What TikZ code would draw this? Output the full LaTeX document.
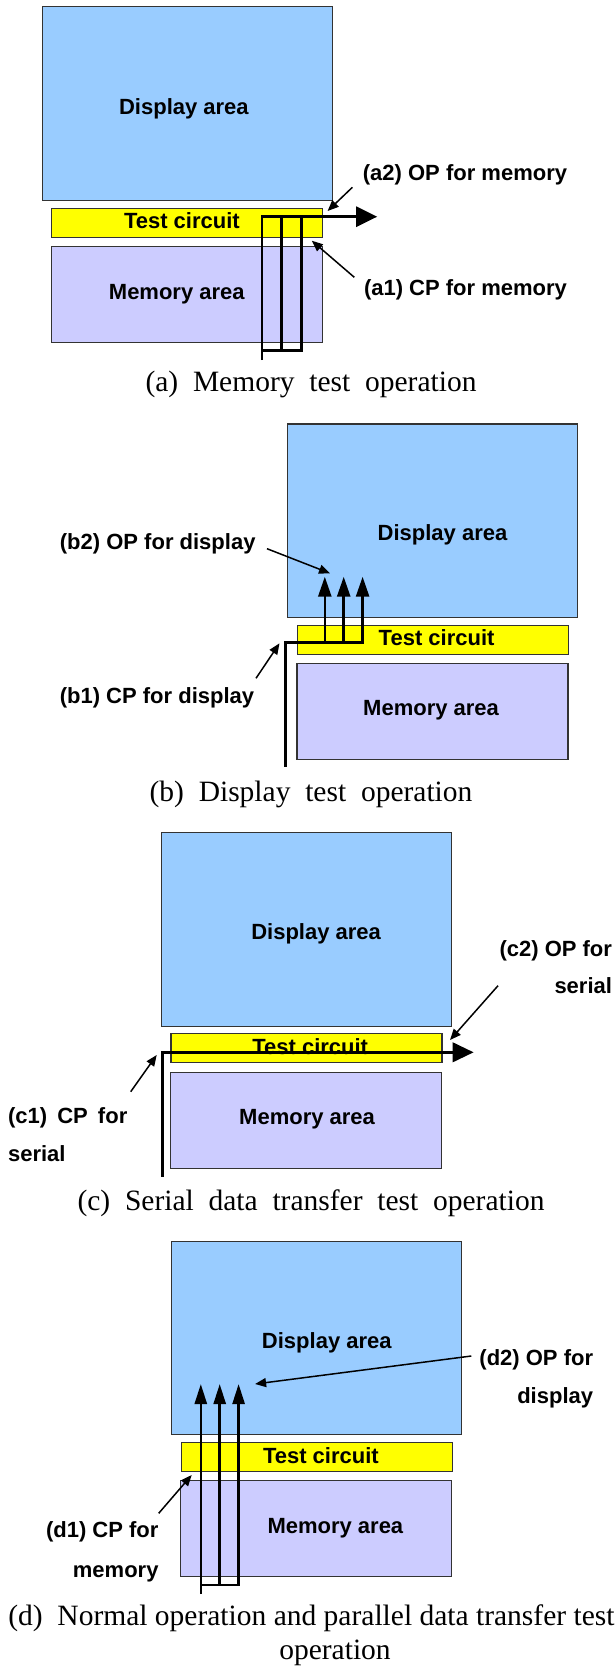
\documentclass[tikz,border=0pt]{standalone}
\usepackage{fontspec}
\setmainfont{Liberation Serif}
\newfontfamily\labfont{Liberation Sans}
\usetikzlibrary{arrows.meta}
\definecolor{dispblue}{HTML}{99CCFF}
\definecolor{testyellow}{HTML}{FFFF00}
\definecolor{memlav}{HTML}{CCCCFF}
\definecolor{boxgray}{HTML}{333333}
\begin{document}
\begin{tikzpicture}[x=1pt,y=-1pt,
  area/.style={draw=boxgray, line width=1.2pt, inner sep=0pt, outer sep=0pt, anchor=north west},
  disp/.style={area, fill=dispblue, minimum width=290pt, minimum height=193.5pt},
  testc/.style={area, fill=testyellow, minimum width=271pt, minimum height=29pt},
  mem/.style={area, fill=memlav, minimum width=271pt, minimum height=96pt},
  lab/.style={font=\labfont\bfseries\fontsize{22}{26}\selectfont, inner sep=0pt, anchor=base},
  captxt/.style={font=\fontsize{29.5}{34}\selectfont, inner sep=0pt, anchor=base},
  wire/.style={line width=2.6pt, line join=miter},
  bigtip/.style={-{Triangle[length=21pt,width=20pt]}},
  uptip/.style={-{Triangle[length=20pt,width=13pt]}},
  pointer/.style={line width=1.5pt, -{Triangle[length=11pt,width=9pt]}}
]
\useasboundingbox (0,0) rectangle (614,1666);

% ---------------- (a) ----------------
\node[disp]  (aD) at (42.1,6.7) {};
\node[testc] (aT) at (51.6,208.3) {};
\node[mem]   (aM) at (51.2,246.3) {};
\node[lab] (aDt) at (183.9,114) {Display area};
\node[lab] (aTt) at (181.9,228.7) {Test circuit};
\node[lab] (aMt) at (176.8,299.7) {Memory area};
\node[lab] (a2) at (465,180.3) {(a2) OP for memory};
\node[lab] (a1) at (465.5,295.3) {(a1) CP for memory};
\node[captxt] (acap) at (311,391.5) {(a)\ \ Memory\ \ test\ \ operation};
\coordinate (ain) at (261.8,360);
\coordinate (aturn) at (261.8,216.7);
\coordinate (aout) at (377.2,216.7);
\coordinate (ab1) at (261.8,350.7);
\coordinate (ab3) at (301.2,350.7);
\coordinate (at3) at (301.2,216.7);
\coordinate (ab2) at (281.5,350.7);
\coordinate (at2) at (281.5,216.7);
\draw[wire,bigtip] (ain) -- (aturn) -- (aout);
\draw[wire] (ab1) -- (ab3) -- (at3);
\draw[wire] (ab2) -- (at2);
\coordinate (a2s) at (352.4,187.3);
\coordinate (a2e) at (327.6,211);
\coordinate (a1s) at (354.3,277.3);
\coordinate (a1e) at (311.8,240.7);
\draw[pointer] (a2s) -- (a2e);
\draw[pointer] (a1s) -- (a1e);

% ---------------- (b) ----------------
\node[disp]  (bD) at (287.8,424) {};
\node[testc] (bT) at (297.2,625.3) {};
\node[mem]   (bM) at (296.9,663.7) {};
\node[lab] (bDt) at (442.5,540.7) {Display area};
\node[lab] (bTt) at (436.6,645.7) {Test circuit};
\node[lab] (bMt) at (431.1,715.7) {Memory area};
\node[lab] (b2) at (157.7,549) {(b2) OP for display};
\node[lab] (b1) at (157,703) {(b1) CP for display};
\node[captxt] (bcap) at (311,801.5) {(b)\ \ Display\ \ test\ \ operation};
\coordinate (bin) at (285.4,766.7);
\coordinate (bturn) at (285.4,642.7);
\coordinate (bb1) at (324.8,642.7);
\coordinate (bb2) at (343.7,642.7);
\coordinate (bb3) at (362.6,642.7);
\coordinate (bt1) at (324.8,576.7);
\coordinate (bt2) at (343.7,576.7);
\coordinate (bt3) at (362.6,576.7);
\draw[wire,uptip] (bin) -- (bturn) -- (bb3) -- (bt3);
\draw[wire,uptip] (bb1) -- (bt1);
\draw[wire,uptip] (bb2) -- (bt2);
\coordinate (b2s) at (267,548.7);
\coordinate (b2e) at (330,573.3);
\coordinate (b1s) at (256,678.3);
\coordinate (b1e) at (279.5,643.3);
\draw[pointer] (b2s) -- (b2e);
\draw[pointer] (b1s) -- (b1e);

% ---------------- (c) ----------------
\node[disp]  (cD) at (161.4,832.7) {};
\node[testc] (cT) at (170.9,1033.7) {};
\node[mem]   (cM) at (170.5,1072.3) {};
\node[lab] (cDt) at (316.1,939.7) {Display area};
\node[lab] (cTt) at (310.2,1054) {Test circuit};
\node[lab] (cMt) at (307.1,1124.7) {Memory area};
\node[lab,anchor=base east] (c2) at (612.2,956.3) {(c2) OP for};
\node[lab,anchor=base east] (c2b) at (612.2,993.7) {serial};
\node[lab,anchor=base west] (c1) at (7.9,1123) {(c1)\hspace{4pt} CP\hspace{4pt} for};
\node[lab,anchor=base west] (c1b) at (7.9,1161.3) {serial};
\node[captxt] (ccap) at (311,1210) {(c)\ \ Serial\ \ data\ \ transfer\ \ test\ \ operation};
\coordinate (cin) at (162.2,1176.7);
\coordinate (cturn) at (162.2,1052.3);
\coordinate (cout) at (473.6,1052.3);
\draw[wire,-{Triangle[length=21pt,width=19.5pt]}] (cin) -- (cturn) -- (cout);
\coordinate (c2s) at (498,985.7);
\coordinate (c2e) at (450,1040);
\coordinate (c1s) at (130.7,1091.7);
\coordinate (c1e) at (156.7,1055);
\draw[pointer] (c2s) -- (c2e);
\draw[pointer] (c1s) -- (c1e);

% ---------------- (d) ----------------
\node[disp]  (dD) at (171.7,1241.3) {};
\node[testc] (dT) at (181.5,1442.3) {};
\node[mem]   (dM) at (180.7,1480.7) {};
\node[lab] (dDt) at (326.8,1348) {Display area};
\node[lab] (dTt) at (320.9,1463) {Test circuit};
\node[lab] (dMt) at (335.4,1533) {Memory area};
\node[lab,anchor=base east] (d2) at (593.3,1365.7) {(d2) OP for};
\node[lab,anchor=base east] (d2b) at (593.3,1403.7) {display};
\node[lab,anchor=base east] (d1) at (158.7,1537.3) {(d1) CP for};
\node[lab,anchor=base east] (d1b) at (158.7,1577) {memory};
\node[captxt] (dcap) at (311.4,1625.7) {(d)\ \ Normal operation and parallel data transfer test};
\node[captxt] (dcapb) at (335,1659) {operation};
\coordinate (din) at (200.8,1594);
\coordinate (db1) at (200.8,1585);
\coordinate (db2) at (219.7,1585);
\coordinate (db3) at (238.6,1585);
\coordinate (dt1) at (200.8,1384);
\coordinate (dt2) at (219.7,1384);
\coordinate (dt3) at (238.6,1384);
\draw[wire,-{Triangle[length=20pt,width=12pt]}] (din) -- (dt1);
\draw[wire,-{Triangle[length=20pt,width=12pt]}] (db1) -- (db3) -- (dt3);
\draw[wire,-{Triangle[length=20pt,width=12pt]}] (db2) -- (dt2);
\coordinate (d2s) at (471.3,1356);
\coordinate (d2e) at (255.1,1384);
\coordinate (d1s) at (158.7,1513.3);
\coordinate (d1e) at (191.7,1475);
\draw[pointer] (d2s) -- (d2e);
\draw[pointer] (d1s) -- (d1e);
\end{tikzpicture}
\end{document}
